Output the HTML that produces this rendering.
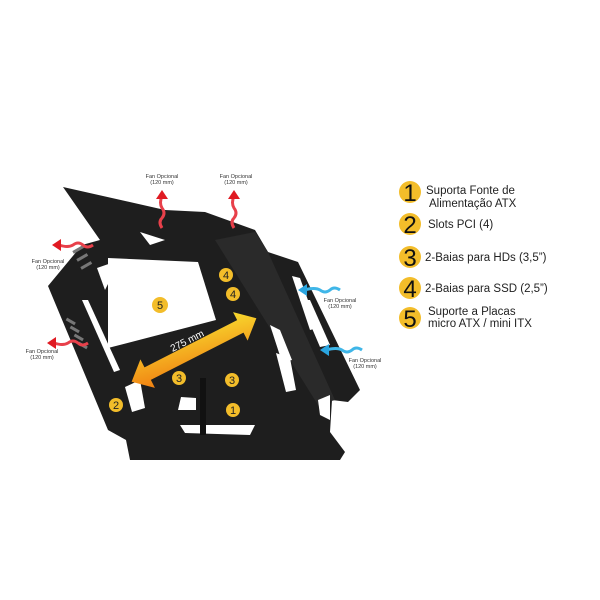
<!DOCTYPE html>
<html><head><style>
html,body{margin:0;padding:0;background:#fff;width:600px;height:600px;overflow:hidden}
svg{display:block}
.t{font-family:"Liberation Sans",sans-serif}
</style></head><body>
<svg width="600" height="600" viewBox="0 0 600 600" class="t">
<defs>
<linearGradient id="ar" x1="0" y1="1" x2="1" y2="0">
<stop offset="0" stop-color="#f07a10"/><stop offset="1" stop-color="#f8e030"/>
</linearGradient>
</defs>
<!-- case body -->
<polygon fill="#1e1e1e" points="63,187 165,210 205,212 255,230 268,252 298,262 360,390 348,402 332,400 330,432 345,452 340,460 130,460 126,440 108,430 48,286 82,245 100,240"/>
<!-- top panel highlight -->
<polygon fill="#2a2a2a" points="215,240 255,232 268,252 335,400 318,405"/>
<!-- cutouts -->
<polygon fill="#fff" points="108,258 198,262 216,320 108,348"/>
<polygon fill="#fff" points="140,232 165,240 150,245"/>
<polygon fill="#fff" points="97,268 120,260 105,290"/>
<polygon fill="#fff" points="82,300 88,300 120,370 114,372"/>
<polygon fill="#fff" points="125,387 140,380 145,408 132,412"/>
<polygon fill="#fff" points="181,397 196,398 196,410 178,410"/>
<polygon fill="#fff" points="180,425 255,425 250,435 185,433"/>
<polygon fill="#fff" points="270,325 280,330 292,360 282,362"/>
<polygon fill="#fff" points="276,353 290,358 296,390 286,392"/>
<polygon fill="#fff" points="292,276 300,278 318,328 310,330"/>
<polygon fill="#fff" points="300,300 310,300 330,345 320,347"/>
<polygon fill="#fff" points="318,400 330,395 330,420 320,415"/>
<!-- vents -->
<g fill="#777">
<rect x="72" y="248" width="12" height="3" transform="rotate(-30 78 249)"/>
<rect x="76" y="256" width="12" height="3" transform="rotate(-30 82 257)"/>
<rect x="80" y="264" width="12" height="3" transform="rotate(-30 86 265)"/>
<rect x="66" y="320" width="10" height="3" transform="rotate(30 71 321)"/>
<rect x="70" y="328" width="10" height="3" transform="rotate(30 75 329)"/>
<rect x="74" y="336" width="10" height="3" transform="rotate(30 79 337)"/>
<rect x="78" y="344" width="10" height="3" transform="rotate(30 83 345)"/>
</g>
<!-- stand -->
<polygon fill="#111" points="200,378 206,378 206,435 200,435"/>
<!-- arrow -->
<g transform="translate(194,350) rotate(-27)">
<polygon fill="url(#ar)" points="-70,0 -52,-16 -52,-7 52,-7 52,-16 70,0 52,16 52,7 -52,7 -52,16"/>
<text x="-2" y="-8" font-size="10" fill="#fff" text-anchor="middle">275 mm</text>
</g>
<!-- numbered circles -->
<g font-size="11" text-anchor="middle" fill="#222">
<circle cx="160" cy="305" r="8" fill="#f3bd2a"/><text x="160" y="309">5</text>
<circle cx="226" cy="275" r="7" fill="#f3bd2a"/><text x="226" y="279">4</text>
<circle cx="233" cy="294" r="7" fill="#f3bd2a"/><text x="233" y="298">4</text>
<circle cx="179" cy="378" r="7" fill="#f3bd2a"/><text x="179" y="382">3</text>
<circle cx="232" cy="380" r="7" fill="#f3bd2a"/><text x="232" y="384">3</text>
<circle cx="233" cy="410" r="7" fill="#f3bd2a"/><text x="233" y="414">1</text>
<circle cx="116" cy="405" r="7" fill="#f3bd2a"/><text x="116" y="409">2</text>
</g>
<!-- fan arrows -->
<g fill="none" stroke-width="3">
<path d="M162,228 q-4,-6 0,-10 q4,-5 0,-10 q-3,-5 0,-12" stroke="#e8404a"/>
<path d="M234,228 q-4,-6 0,-10 q4,-5 0,-10 q-3,-5 0,-12" stroke="#e8404a"/>
<path d="M93,245 q-6,4 -10,0 q-5,-4 -10,0 q-5,3 -14,0" stroke="#e8404a"/>
<path d="M88,343 q-6,4 -10,0 q-5,-4 -10,0 q-5,3 -14,0" stroke="#e8404a"/>
<path d="M340,290 q-6,-4 -10,0 q-5,4 -10,0 q-5,-3 -16,0" stroke="#3fb6e8"/>
<path d="M362,350 q-6,-4 -10,0 q-5,4 -10,0 q-5,-3 -16,0" stroke="#3fb6e8"/>
</g>
<g fill="#e01a22">
<polygon points="162,190 156,199 168,199"/>
<polygon points="234,190 228,199 240,199"/>
<polygon points="52,245 61,239 61,251"/>
<polygon points="47,343 56,337 56,349"/>
</g>
<g fill="#2aa5e0">
<polygon points="298,290 307,284 307,296"/>
<polygon points="320,350 329,344 329,356"/>
</g>
<g font-size="5.5" fill="#333" text-anchor="middle">
<text x="162" y="178">Fan Opcional</text><text x="162" y="184">(120 mm)</text>
<text x="236" y="178">Fan Opcional</text><text x="236" y="184">(120 mm)</text>
<text x="48" y="263">Fan Opcional</text><text x="48" y="269">(120 mm)</text>
<text x="42" y="353">Fan Opcional</text><text x="42" y="359">(120 mm)</text>
<text x="340" y="302">Fan Opcional</text><text x="340" y="308">(120 mm)</text>
<text x="365" y="362">Fan Opcional</text><text x="365" y="368">(120 mm)</text>
</g>
<!-- legend -->
<g>
<circle cx="410" cy="192" r="11" fill="#f3bd2a"/><text x="410" y="201" font-size="24" text-anchor="middle" fill="#111">1</text>
<circle cx="410" cy="224" r="11" fill="#f3bd2a"/><text x="410" y="233" font-size="24" text-anchor="middle" fill="#111">2</text>
<circle cx="410" cy="257" r="11" fill="#f3bd2a"/><text x="410" y="266" font-size="24" text-anchor="middle" fill="#111">3</text>
<circle cx="410" cy="288" r="11" fill="#f3bd2a"/><text x="410" y="297" font-size="24" text-anchor="middle" fill="#111">4</text>
<circle cx="410" cy="318" r="11" fill="#f3bd2a"/><text x="410" y="327" font-size="24" text-anchor="middle" fill="#111">5</text>
<g font-size="11.5" fill="#222">
<text x="426" y="194">Suporta Fonte de</text>
<text x="429" y="207">Alimentação ATX</text>
<text x="428" y="228">Slots PCI (4)</text>
<text x="425" y="261">2-Baias para HDs (3,5”)</text>
<text x="425" y="292">2-Baias para SSD (2,5”)</text>
<text x="428" y="315">Suporte a Placas</text>
<text x="428" y="327">micro ATX / mini ITX</text>
</g>
</g>
</svg>
</body></html>
